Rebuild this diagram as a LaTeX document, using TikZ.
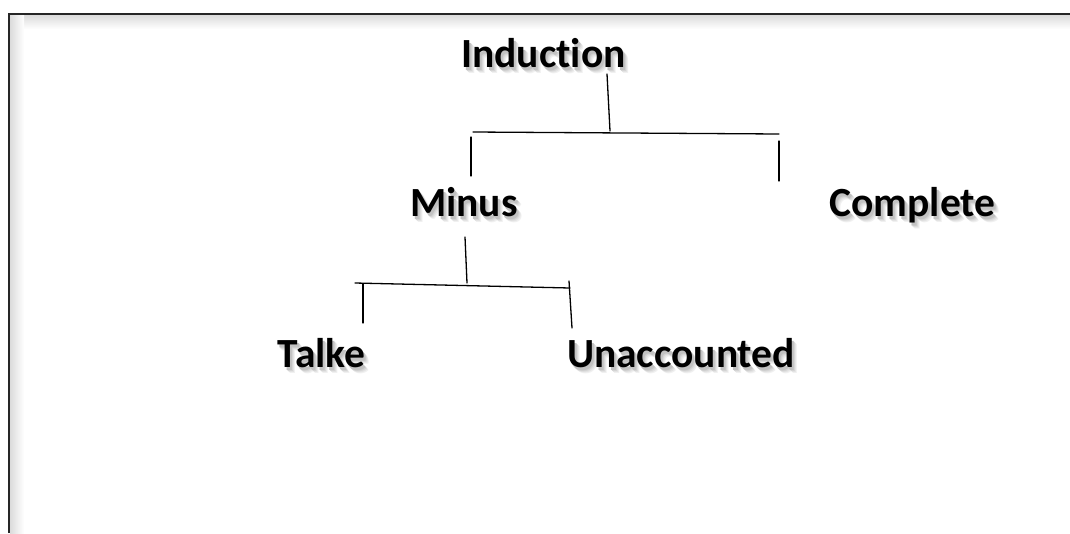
\documentclass[tikz,border=0pt]{standalone}
\usepackage{fontspec}
\setmainfont{Carlito}[Ligatures=NoCommon]
\usetikzlibrary{calc}
\newcommand{\shtext}[1]{\leavevmode
  \rlap{\kern5pt\raisebox{-6pt}{\color{black!6}#1}}%
  \rlap{\kern4pt\raisebox{-5pt}{\color{black!11}#1}}%
  \rlap{\kern3pt\raisebox{-4pt}{\color{black!17}#1}}%
  \rlap{\kern2pt\raisebox{-3pt}{\color{black!24}#1}}%
  #1}
\tikzset{
  lbl/.style={font=\fontsize{41.5}{41.5}\selectfont\bfseries, anchor=base, inner sep=0pt},
  conn/.style={line width=1.3pt, black, line cap=round},
  frameline/.style={line width=2pt, black!85}
}
\begin{document}
\begin{tikzpicture}[x=1pt,y=-1pt]
\useasboundingbox (0,0) rectangle (1070,533);
\fill[white] (0,0) rectangle (1070,533);
% frame shadow
\shade[top color=black!14, bottom color=white] (10,15) rectangle (1070,29);
\shade[left color=black!14, right color=white] (10,15) rectangle (24,533);
\draw[frameline] (9,533) -- (9,14) -- (1070,14);

% labels
\node[lbl] (ind) at (543.5,67) {\shtext{Induction}};
\node[lbl] (min) at (464,216) {\shtext{Minus}};
\node[lbl] (com) at (912.5,216) {\shtext{Complete}};
\node[lbl] (tal) at (321.5,367) {\shtext{Talke}};
\node[lbl] (una) at (681,367) {\shtext{Unaccounted}};

% connector coordinates
\coordinate (s1a) at (607,74);
\coordinate (s1b) at (610,131);
\coordinate (b1l) at (473,132);
\coordinate (b1r) at (779,134);
\coordinate (d1la) at (471,137);
\coordinate (d1lb) at (471,176);
\coordinate (d1ra) at (779,141);
\coordinate (d1rb) at (779,181);
\coordinate (s2a) at (465,237);
\coordinate (s2b) at (467,283);
\coordinate (b2l) at (355,283);
\coordinate (b2r) at (570,288);
\coordinate (d2la) at (363,284);
\coordinate (d2lb) at (363,323);
\coordinate (d2ra) at (569,281);
\coordinate (d2rb) at (572,328);

\draw[conn] (s1a) -- (s1b);
\draw[conn] (b1l) -- (b1r);
\draw[conn] (d1la) -- (d1lb);
\draw[conn] (d1ra) -- (d1rb);
\draw[conn] (s2a) -- (s2b);
\draw[conn] (b2l) -- (b2r);
\draw[conn] (d2la) -- (d2lb);
\draw[conn] (d2ra) -- (d2rb);
\end{tikzpicture}
\end{document}
